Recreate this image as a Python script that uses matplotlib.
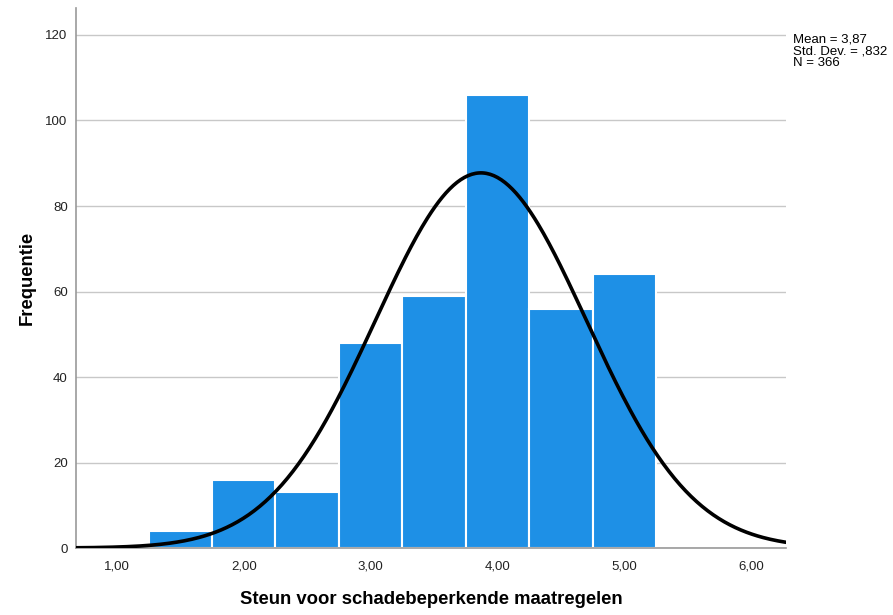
import numpy as np
import matplotlib
matplotlib.use('Agg')
import matplotlib.pyplot as plt

plt.rcParams['font.family'] = ['Liberation Sans', 'DejaVu Sans']

# histogram data (bin centres and counts)
bin_centres = [1.5, 2.0, 2.5, 3.0, 3.5, 4.0, 4.5, 5.0]
counts = [4, 16, 13, 48, 59, 106, 56, 64]
bin_width = 0.5
mean = 3.87
std = 0.832
n = 366
x_ticks = [1, 2, 3, 4, 5, 6]
x_tick_labels = ['1,00', '2,00', '3,00', '4,00', '5,00', '6,00']
y_ticks = [0, 20, 40, 60, 80, 100, 120]

fig = plt.figure(figsize=(8.93, 6.15), dpi=100)
ax = fig.add_axes([0.0851, 0.1089, 0.7951, 0.878])

ax.set_axisbelow(True)
ax.grid(axis='y', color='#c8c8c8', linewidth=1)
ax.bar(bin_centres, counts, width=bin_width, color='#1E90E6',
       edgecolor='white', linewidth=1.5, zorder=2)

xs = np.linspace(0.6, 6.4, 400)
ys = n * bin_width / (std * np.sqrt(2 * np.pi)) * np.exp(-0.5 * ((xs - mean) / std) ** 2)
ax.plot(xs, ys, color='black', linewidth=2.6, zorder=3, solid_capstyle='butt')

ax.set_xlim(0.677, 6.276)
ax.set_ylim(0, 126.3)
ax.set_xticks(x_ticks)
ax.set_xticklabels(x_tick_labels)
ax.set_yticks(y_ticks)
ax.tick_params(length=0, labelsize=9.5, colors='#222222', pad=9)
ax.tick_params(axis='y', pad=6)

for side in ['top', 'right']:
    ax.spines[side].set_visible(False)
for side in ['left', 'bottom']:
    ax.spines[side].set_color('#999999')
    ax.spines[side].set_linewidth(1.2)

ax.set_xlabel('Steun voor schadebeperkende maatregelen', fontsize=13.3,
              fontweight='bold', labelpad=13)
ax.set_ylabel('Frequentie', fontsize=13.3, fontweight='bold', labelpad=7)

fig.text(793 / 893, 1 - 34 / 615, 'Mean = 3,87\nStd. Dev. = ,832\nN = 366',
         fontsize=9.5, va='top', ha='left', linespacing=0.92)

fig.savefig('out.png', dpi=100)
